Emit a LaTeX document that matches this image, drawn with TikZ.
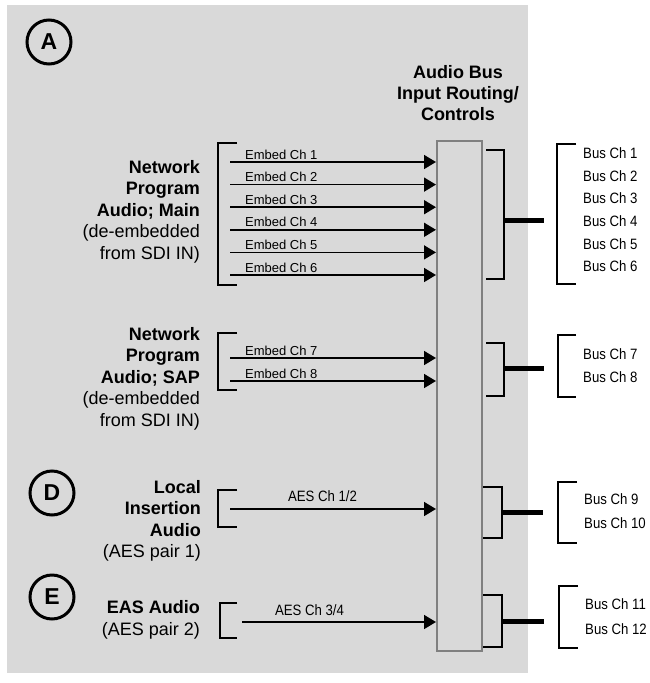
\documentclass[tikz,border=0pt]{standalone}
\usepackage{fontspec}
\setmainfont{Liberation Sans}
\newfontfamily\narrowfont[FakeStretch=0.88]{Liberation Sans}
\usetikzlibrary{arrows.meta,positioning}
\definecolor{panelgray}{RGB}{217,217,217}
\definecolor{edgegray}{RGB}{128,128,128}

\begin{document}
\begin{tikzpicture}[
 x=1pt,y=-1pt,
 every node/.style={inner sep=0pt},
 grouplbl/.style={align=right,anchor=east,font=\fontsize{18}{21.5}\selectfont},
 chlbl/.style={font=\fontsize{13}{15}\selectfont},
 buslbl/.style={anchor=west,font=\narrowfont\fontsize{15}{17}\selectfont},
 tag/.style={circle,draw,line width=3pt,minimum size=44pt,font=\fontsize{23}{23}\selectfont\bfseries},
 arr/.style={-{Triangle[length=12pt,width=14pt]},line width=1.6pt},
 brk/.style={line width=2.8pt},
 stub/.style={line width=5pt}
]
\useasboundingbox (0,0) rectangle (649,683);
\fill[panelgray] (7,5) rectangle (528,673);
\node[draw=edgegray,line width=2pt,fill=panelgray,minimum width=45pt,minimum height=510pt,anchor=north west] (bus) at (436,140) {};
\node[align=center,font=\fontsize{18}{21}\selectfont\bfseries] (title) at (458,93) {Audio Bus\\Input Routing/\\Controls};
\node[tag] (tagA) at (49,42) {A};
\node[tag] (tagD) at (52,493) {D};
\node[tag] (tagE) at (52,597) {E};

% network program audio, main
\node[grouplbl] (mainlbl) at (200,211.4) {\textbf{Network}\\\textbf{Program}\\\textbf{Audio; Main}\\(de-embedded\\from SDI IN)};
\draw[brk] (237,143) -| (218,285) -- (237,285);
\foreach \i in {1,...,6} {
 \pgfmathsetmacro\yy{162+(\i-1)*22.6}
 \pgfmathsetmacro\yb{153.3+(\i-1)*22.6}
 \coordinate (m\i) at (230,\yy);
 \draw[arr] (m\i) -- (bus.west |- m\i);
 \node[chlbl,anchor=base west] (ml\i) at (245,\yy-3) {Embed Ch \i};
 \node[buslbl] (b\i) at (583,\yb) {Bus Ch \i};
}
\draw[brk] (486,150) -| (504,279) -- (486,279);
\draw[stub] (504,220) -- (544,220);
\draw[brk] (576,144) -| (557,284) -- (576,284);

% network program audio, SAP
\node[grouplbl] (saplbl) at (200,378.6) {\textbf{Network}\\\textbf{Program}\\\textbf{Audio; SAP}\\(de-embedded\\from SDI IN)};
\draw[brk] (237,333) -| (218,390) -- (237,390);
\foreach \i/\yy/\yb in {7/358/354,8/381/377} {
 \coordinate (m\i) at (230,\yy);
 \draw[arr] (m\i) -- (bus.west |- m\i);
 \node[chlbl,anchor=base west] (ml\i) at (245,\yy-3) {Embed Ch \i};
 \node[buslbl] (b\i) at (583,\yb) {Bus Ch \i};
}
\draw[brk] (486,343) -| (504,396) -- (486,396);
\draw[stub] (504,368) -- (544,368);
\draw[brk] (576,335) -| (558,397) -- (576,397);

% local insertion audio
\node[grouplbl] (loclbl) at (201,520.6) {\textbf{Local}\\\textbf{Insertion}\\\textbf{Audio}\\(AES pair 1)};
\draw[brk] (237,490) -| (218,527) -- (237,527);
\coordinate (aes1) at (230,509);
\draw[arr] (aes1) -- (bus.west |- aes1);
\node[buslbl,anchor=base] (aes1lbl) at (322.5,501) {AES Ch 1/2};
\draw[brk] (483,487) -| (502,538) -- (483,538);
\draw[stub] (502,512) -- (543,512);
\draw[brk] (577,482) -| (558,543) -- (577,543);
\node[buslbl] (b9) at (584,499) {Bus Ch 9};
\node[buslbl] (b10) at (584,523) {Bus Ch 10};

% EAS audio
\node[grouplbl] (easlbl) at (200,619.6) {\textbf{EAS Audio}\\(AES pair 2)};
\draw[brk] (237,603) -| (220,638) -- (237,638);
\coordinate (aes2) at (242,622);
\draw[arr] (aes2) -- (bus.west |- aes2);
\node[buslbl,anchor=base] (aes2lbl) at (309.5,615) {AES Ch 3/4};
\draw[brk] (483,595) -| (502,647) -- (483,647);
\draw[stub] (502,621) -- (544,621);
\draw[brk] (578,586) -| (559,648) -- (578,648);
\node[buslbl] (b11) at (585,604) {Bus Ch 11};
\node[buslbl] (b12) at (585,629) {Bus Ch 12};
\end{tikzpicture}
\end{document}
